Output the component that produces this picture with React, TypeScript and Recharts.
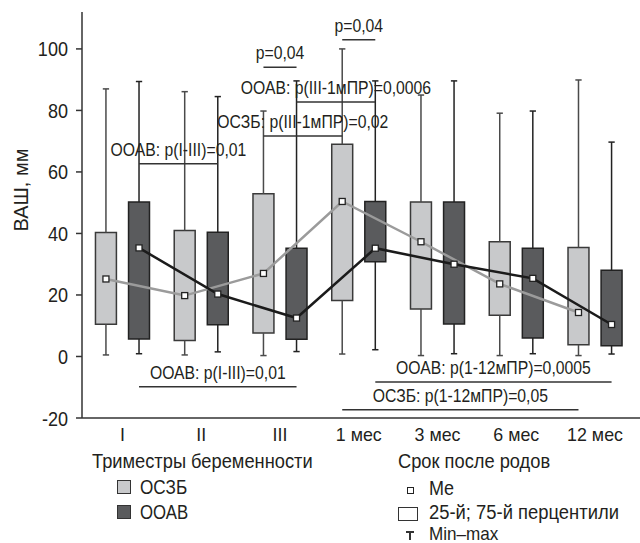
import React from "react";
import {
  ComposedChart,
  XAxis,
  YAxis,
  Line,
  ReferenceArea,
  ReferenceLine,
} from "recharts";

const FONT = "'Liberation Sans', Arial, sans-serif";
const INK = "#231f20";
const LIGHT = "#c8c9cb";
const DARK = "#5a5b5d";

const categories = ["I", "II", "III", "1 мес", "3 мес", "6 мес", "12 мес"];
const yTicks = [-20, 0, 20, 40, 60, 80, 100];

// ОСЗБ
const oszbMin = [0.5, 0.5, 0.3, 0.8, 0.3, 0.3, 0.3];
const oszbQ1 = [10.5, 5.2, 7.6, 18.2, 15.4, 13.4, 3.8];
const oszbMed = [25.2, 19.8, 27, 50.4, 37.3, 23.6, 14.3];
const oszbQ3 = [40.3, 41, 52.9, 69, 50.2, 37.3, 35.4];
const oszbMax = [87, 86.1, 79.8, 100, 85, 79.1, 89.9];

// ООАВ
const ooavMin = [0.9, 1.5, 1.6, 2.2, 0.9, 0.9, 0.8];
const ooavQ1 = [5.7, 10.3, 5.6, 30.8, 10.6, 6, 3.5];
const ooavMed = [35.3, 20.3, 12.5, 35.2, 30, 25.4, 10.4];
const ooavQ3 = [50.2, 40.4, 35.2, 50.4, 50.2, 35.2, 28];
const ooavMax = [89.4, 84.5, 89.6, 89.6, 89.6, 79.8, 69.7];

// comparisons: slot = category * 2 + group (0 = ОСЗБ, 1 = ООАВ)
const bracketText = [
  "p=0,04",
  "p=0,04",
  "ООАВ: p(III-1мПР)=0,0006",
  "ОСЗБ: p(III-1мПР)=0,02",
  "ООАВ: p(I-III)=0,01",
  "ООАВ: p(I-III)=0,01",
  "ООАВ: p(1-12мПР)=0,0005",
  "ОСЗБ: p(1-12мПР)=0,05",
];
const bracketFrom = [4, 6, 5, 4, 1, 1, 7, 6];
const bracketTo = [5, 7, 7, 6, 3, 5, 13, 12];
const bracketLevel = [94, 103, 82.7, 71.7, 62.7, -9.8, -8.3, -17.3];

const OFFSET = 0.21;
const HALF = 0.133;
const CAP = 0.04;

const slotX = (slot: number) =>
  Math.floor(slot / 2) + (slot % 2 === 0 ? -OFFSET : OFFSET);

const groups = [
  { min: oszbMin, q1: oszbQ1, med: oszbMed, q3: oszbQ3, max: oszbMax, fill: LIGHT, whisker: "#4a4a4a", stroke: "#3a3a3a", line: "#9b9b9b" },
  { min: ooavMin, q1: ooavQ1, med: ooavMed, q3: ooavQ3, max: ooavMax, fill: DARK, whisker: "#222", stroke: "#222", line: "#1b1b1b" },
];

// condensed look: Liberation Sans squeezed horizontally
const Narrow = ({ x, y, anchor = "start", size, sx, children }: any) => (
  <text
    transform={`translate(${x} ${y}) scale(${sx} 1)`}
    textAnchor={anchor}
    fontFamily={FONT}
    fontSize={size}
    fill={INK}
  >
    {children}
  </text>
);

const XTick = (props: any) => (
  <Narrow x={props.x} y={props.y + 15} anchor="middle" size={17.5} sx={1.02}>
    {categories[props.payload.value] ?? ""}
  </Narrow>
);

const YTick = (props: any) => (
  <Narrow x={props.x} y={props.y + 7.5} anchor="end" size={21} sx={0.86}>
    {props.payload.value}
  </Narrow>
);

const MedianDot = (props: any) => {
  const { cx, cy, index } = props;
  if (cx == null || cy == null) return <g key={`d${index}`} />;
  return (
    <rect
      key={`d${index}`}
      x={cx - 3}
      y={cy - 3}
      width={6}
      height={6}
      fill="#fff"
      stroke="#222"
      strokeWidth={1.3}
    />
  );
};

export default function App() {
  const elements: React.ReactNode[] = [];

  groups.forEach((g, gi) => {
    categories.forEach((_, i) => {
      const x = slotX(i * 2 + gi);
      elements.push(
        <ReferenceLine
          key={`wl${gi}-${i}`}
          segment={[{ x, y: g.min[i] }, { x, y: g.q1[i] }]}
          stroke={g.whisker}
          strokeWidth={1.5}
        />,
        <ReferenceLine
          key={`wh${gi}-${i}`}
          segment={[{ x, y: g.q3[i] }, { x, y: g.max[i] }]}
          stroke={g.whisker}
          strokeWidth={1.5}
        />,
        <ReferenceLine
          key={`cl${gi}-${i}`}
          segment={[{ x: x - CAP, y: g.min[i] }, { x: x + CAP, y: g.min[i] }]}
          stroke={g.whisker}
          strokeWidth={1.5}
        />,
        <ReferenceLine
          key={`ch${gi}-${i}`}
          segment={[{ x: x - CAP, y: g.max[i] }, { x: x + CAP, y: g.max[i] }]}
          stroke={g.whisker}
          strokeWidth={1.5}
        />,
        <ReferenceArea
          key={`b${gi}-${i}`}
          x1={x - HALF}
          x2={x + HALF}
          y1={g.q1[i]}
          y2={g.q3[i]}
          fill={g.fill}
          fillOpacity={1}
          stroke={g.stroke}
          strokeWidth={1.5}
        />
      );
    });
  });

  bracketText.forEach((text, k) => {
    elements.push(
      <ReferenceLine
        key={`br${k}`}
        segment={[
          { x: slotX(bracketFrom[k]), y: bracketLevel[k] },
          { x: slotX(bracketTo[k]), y: bracketLevel[k] },
        ]}
        stroke="#333"
        strokeWidth={1.5}
        label={(p: any) => {
          const vb = p.viewBox || {};
          const cx = (vb.x ?? 0) + (vb.width ?? 0) / 2;
          return (
            <Narrow x={cx} y={(vb.y ?? 0) - 8} anchor="middle" size={19} sx={0.83}>
              {text}
            </Narrow>
          );
        }}
      />
    );
  });

  const lineData = groups.map((g, gi) =>
    categories.map((_, i) => ({ x: slotX(i * 2 + gi), y: g.med[i] }))
  );

  const text = (size: number, sx: number): React.CSSProperties => ({
    position: "absolute",
    fontFamily: FONT,
    fontSize: size,
    color: INK,
    lineHeight: `${size}px`,
    whiteSpace: "nowrap",
    transform: `scaleX(${sx})`,
    transformOrigin: "left center",
  });

  return (
    <div style={{ position: "absolute", left: 0, top: 0, width: 640, height: 543, background: "#fff", overflow: "hidden" }}>
      <ComposedChart
        width={640}
        height={543}
        margin={{ top: 12, right: 0, bottom: 95, left: 0 }}
      >
        <XAxis
          type="number"
          dataKey="x"
          domain={[-0.514, 6.571]}
          ticks={[0, 1, 2, 3, 4, 5, 6]}
          tickLine={false}
          axisLine={{ stroke: "#333", strokeWidth: 1.5 }}
          tick={<XTick />}
          tickMargin={2}
          height={30}
          allowDataOverflow
        />
        <YAxis
          type="number"
          domain={[-20, 112]}
          ticks={yTicks}
          width={82}
          axisLine={{ stroke: "#333", strokeWidth: 1.5 }}
          tickLine={{ stroke: "#333", strokeWidth: 1.5 }}
          tickSize={6}
          tickMargin={8}
          tick={<YTick />}
          allowDataOverflow
        />
        {elements}
        {lineData.map((d, gi) => (
          <Line
            key={`m${gi}`}
            data={d}
            dataKey="y"
            type="linear"
            stroke={groups[gi].line}
            strokeWidth={2.5}
            dot={<MedianDot />}
            activeDot={false}
            isAnimationActive={false}
          />
        ))}
      </ComposedChart>

      <div
        style={{
          position: "absolute",
          left: 21,
          top: 190,
          fontFamily: FONT,
          fontSize: 21,
          color: INK,
          lineHeight: "16px",
          whiteSpace: "nowrap",
          transform: "translate(-50%, -50%) rotate(-90deg) scaleX(0.95)",
        }}
      >
        ВАШ, мм
      </div>

      <div style={{ ...text(21, 0.87), left: 92, top: 450 }}>Триместры беременности</div>
      <div style={{ ...text(21, 0.87), left: 398, top: 450 }}>Срок после родов</div>

      <div style={{ position: "absolute", left: 117, top: 480, width: 12, height: 12, background: LIGHT, border: "1px solid #333" }} />
      <div style={{ ...text(19.5, 0.88), left: 140, top: 478 }}>ОСЗБ</div>
      <div style={{ position: "absolute", left: 117, top: 505, width: 12, height: 12, background: DARK, border: "1px solid #333" }} />
      <div style={{ ...text(19.5, 0.86), left: 140, top: 503 }}>ООАВ</div>

      <div style={{ position: "absolute", left: 407, top: 487, width: 5, height: 5, background: "#fff", border: "1.3px solid #222" }} />
      <div style={{ ...text(20, 0.9), left: 429, top: 478 }}>Me</div>
      <div style={{ position: "absolute", left: 398, top: 507, width: 18, height: 12, background: "#fff", border: "1px solid #333" }} />
      <div style={{ ...text(20, 0.92), left: 429, top: 502 }}>25-й; 75-й перцентили</div>
      <div style={{ position: "absolute", left: 406, top: 531, width: 8, height: 1.5, background: "#333" }} />
      <div style={{ position: "absolute", left: 409.3, top: 531, width: 1.5, height: 9, background: "#333" }} />
      <div style={{ ...text(19, 0.9), left: 429, top: 524 }}>Min–max</div>
    </div>
  );
}
